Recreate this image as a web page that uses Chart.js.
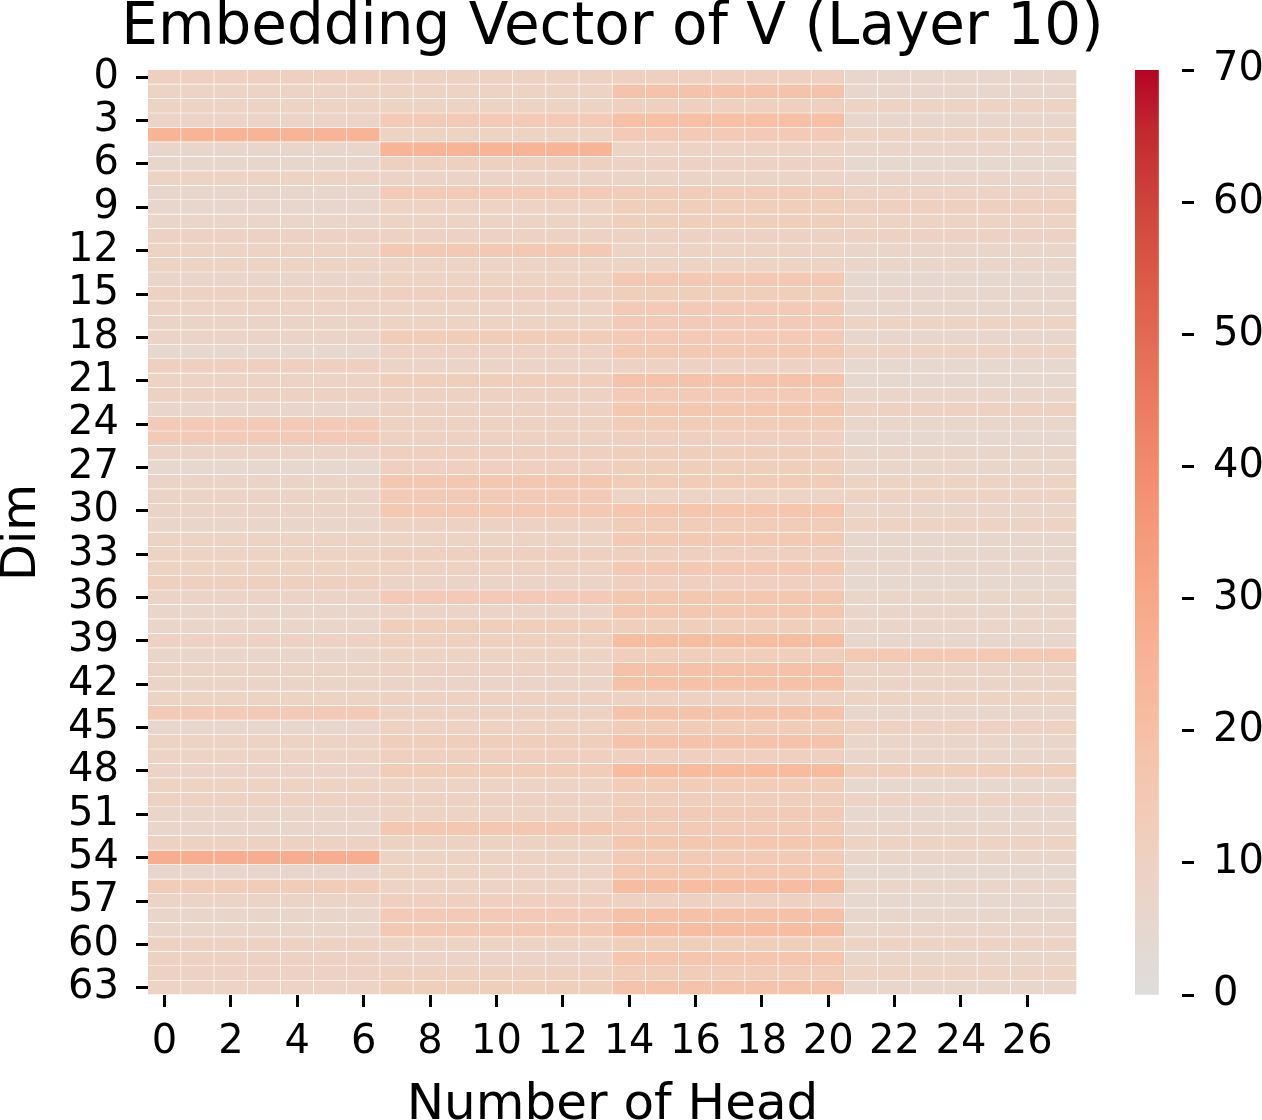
<!DOCTYPE html>
<html>
<head>
<meta charset="utf-8">
<script src="https://cdn.jsdelivr.net/npm/chart.js@4.4.1/dist/chart.umd.min.js"></script>
<style>
  html, body { margin: 0; padding: 0; background: #fff; }
  #wrap { position: relative; width: 1262px; height: 1120px; overflow: hidden; }
  #mainBox { position: absolute; left: 0; top: 0; width: 1225px; height: 1120px; }
  #barBox { position: absolute; left: 1100px; top: 0; width: 162px; height: 1120px; z-index: 2; }
</style>
</head>
<body>
<div id="wrap">
  <div id="mainBox"><canvas id="heatmap"></canvas></div>
  <div id="barBox"><canvas id="colorbar"></canvas></div>
</div>
<script>
// heads on x, embedding dims on y
const headLabels = ["0","1","2","3","4","5","6","7","8","9","10","11","12","13",
  "14","15","16","17","18","19","20","21","22","23","24","25","26","27"];
const xTickLabels = [0, 2, 4, 6, 8, 10, 12, 14, 16, 18, 20, 22, 24, 26];
const yTickLabels = [0, 3, 6, 9, 12, 15, 18, 21, 24, 27, 30, 33, 36, 39, 42, 45, 48, 51, 54, 57, 60, 63];
const cbarTicks = [0, 10, 20, 30, 40, 50, 60, 70];
const vmin = 0, vmax = 70;

// one value per dim, shared by each block of 7 heads (0-6, 7-13, 14-20, 21-27)
const heads0to6 = [11, 9, 9, 8, 25, 6, 6, 9, 6, 6, 7, 10, 9, 9, 7, 10,
  9, 8, 8, 5, 11, 9, 10, 6, 14, 14, 8, 5, 8, 8, 8, 7,
  9, 9, 9, 11, 8, 7, 7, 10, 7, 8, 8, 9, 14, 6, 9, 9,
  8, 9, 10, 7, 7, 10, 28, 6, 13, 8, 7, 7, 10, 10, 10, 9];
const heads7to13 = [10, 9, 9, 14, 9, 25, 11, 8, 14, 9, 9, 10, 15, 9, 9, 11,
  9, 9, 13, 10, 8, 12, 10, 10, 10, 10, 11, 11, 16, 14, 15, 10,
  9, 11, 10, 8, 14, 8, 12, 11, 9, 10, 8, 10, 10, 10, 12, 11,
  13, 9, 10, 9, 16, 10, 9, 9, 9, 11, 14, 15, 9, 8, 11, 12];
const heads14to20 = [11, 18, 11, 20, 14, 9, 10, 8, 13, 12, 12, 10, 9, 9, 15, 12,
  14, 14, 14, 15, 10, 18, 14, 16, 13, 11, 12, 12, 13, 9, 17, 13,
  15, 11, 15, 11, 16, 16, 12, 21, 12, 19, 19, 10, 18, 13, 18, 11,
  22, 13, 12, 14, 14, 16, 14, 16, 21, 10, 19, 21, 12, 17, 13, 18];
const heads21to27 = [6, 6, 9, 6, 9, 7, 5, 7, 9, 11, 9, 10, 7, 7, 5, 6,
  6, 9, 6, 9, 5, 5, 7, 10, 7, 5, 7, 7, 9, 9, 7, 9,
  6, 6, 6, 5, 7, 7, 7, 6, 15, 8, 8, 9, 6, 10, 7, 7,
  12, 5, 9, 5, 7, 9, 7, 5, 7, 5, 6, 7, 9, 7, 9, 7];

const headGroups = [heads0to6, heads7to13, heads14to20, heads21to27];
const nDims = heads0to6.length;

// upper (warm) half of matplotlib's coolwarm
const warmStops = [[221,221,221],[229,216,209],[236,211,197],[241,204,185],[245,196,173],
  [247,187,160],[247,177,148],[247,166,135],[244,154,123],[241,141,111],[236,127,99],
  [229,112,88],[222,96,77],[213,80,66],[203,62,56],[192,40,47],[180,4,38]];

function warmColor(v) {
  let t = (v - vmin) / (vmax - vmin);
  t = Math.max(0, Math.min(1, t)) * (warmStops.length - 1);
  const i = Math.min(Math.floor(t), warmStops.length - 2);
  const f = t - i;
  const a = warmStops[i], b = warmStops[i + 1];
  const c = a.map((x, k) => Math.round(x + (b[k] - x) * f));
  return `rgb(${c[0]},${c[1]},${c[2]})`;
}

function valueAt(head, dim) {
  return headGroups[Math.floor(head / 7)][dim];
}

Chart.defaults.font.family = "'DejaVu Sans'";
Chart.defaults.color = "#000";

const datasets = [];
for (let d = 0; d < nDims; d++) {
  datasets.push({
    label: "dim " + d,
    data: headLabels.map(() => [d, d + 1]),
    backgroundColor: headLabels.map((_, h) => warmColor(valueAt(h, d))),
    borderColor: "rgba(255,255,255,0.12)",
    borderWidth: { top: 0, left: 0, right: 1, bottom: 1 },
    borderSkipped: false,
    grouped: false,
    barPercentage: 1,
    categoryPercentage: 1,
    xAxisID: "x",
    yAxisID: "y"
  });
}

const tickGrid = {
  display: true,
  drawOnChartArea: false,
  drawTicks: true,
  tickLength: 12,
  tickWidth: 3,
  tickColor: "#000"
};

// canvas is 1225 wide; an empty right axis of 148px keeps the plot at 148..1077
// so the full-width title is centred over it
new Chart(document.getElementById("heatmap"), {
  type: "bar",
  data: { labels: headLabels, datasets: datasets },
  options: {
    responsive: true,
    maintainAspectRatio: false,
    animation: false,
    layout: { padding: 0 },
    plugins: {
      legend: { display: false },
      tooltip: { enabled: false },
      title: {
        display: true,
        text: "Embedding Vector of V (Layer 10)",
        font: { size: 58, weight: "normal", lineHeight: 1.0 },
        padding: { top: 0, bottom: 12 },
        color: "#000"
      }
    },
    scales: {
      x: {
        type: "category",
        offset: true,
        grid: Object.assign({}, tickGrid, { offset: false }),
        border: { display: false },
        ticks: { font: { size: 40 }, padding: 12, autoSkip: false, maxRotation: 0 },
        afterBuildTicks: s => { s.ticks = xTickLabels.map(v => ({ value: v })); },
        afterFit: s => { s.height = 125; },
        title: {
          display: true, text: "Number of Head",
          font: { size: 50, lineHeight: 0.55 }, padding: { top: 0, bottom: 0 }
        }
      },
      y: {
        type: "linear",
        reverse: true,
        min: 0,
        max: nDims,
        grid: tickGrid,
        border: { display: false },
        ticks: { font: { size: 40 }, padding: 17, autoSkip: false, callback: v => v - 0.5 },
        afterBuildTicks: s => { s.ticks = yTickLabels.map(v => ({ value: v + 0.5 })); },
        afterFit: s => { s.width = 148; },
        title: {
          display: true, text: "Dim",
          font: { size: 48, lineHeight: 0.8 }, padding: { top: 3, bottom: 0 }
        }
      },
      ySpacer: {
        type: "linear",
        position: "right",
        min: 0,
        max: nDims,
        grid: { display: false },
        border: { display: false },
        ticks: { display: false },
        afterFit: s => { s.width = 148; }
      }
    }
  }
});

// colorbar
new Chart(document.getElementById("colorbar"), {
  type: "bar",
  data: {
    labels: ["cbar"],
    datasets: [{
      data: [[vmin, vmax]],
      barPercentage: 1,
      categoryPercentage: 1,
      borderWidth: 0,
      backgroundColor: ctx => {
        const chart = ctx.chart;
        if (!chart.chartArea) return warmColor(vmin);
        const y = chart.scales.y;
        const g = chart.ctx.createLinearGradient(0, y.getPixelForValue(vmin), 0, y.getPixelForValue(vmax));
        warmStops.forEach((c, i) => g.addColorStop(i / (warmStops.length - 1), `rgb(${c[0]},${c[1]},${c[2]})`));
        return g;
      }
    }]
  },
  options: {
    responsive: true,
    maintainAspectRatio: false,
    animation: false,
    layout: { padding: { left: 35, right: 0, top: 70, bottom: 125 } },
    plugins: { legend: { display: false }, tooltip: { enabled: false } },
    scales: {
      x: { display: false, offset: false },
      y: {
        position: "right",
        min: vmin,
        max: vmax,
        grid: tickGrid,
        border: { display: false },
        ticks: { font: { size: 40 }, padding: 19, autoSkip: false },
        afterBuildTicks: s => { s.ticks = cbarTicks.map(v => ({ value: v })); },
        afterFit: s => { s.width = 80; }
      }
    }
  }
});
</script>
</body>
</html>
